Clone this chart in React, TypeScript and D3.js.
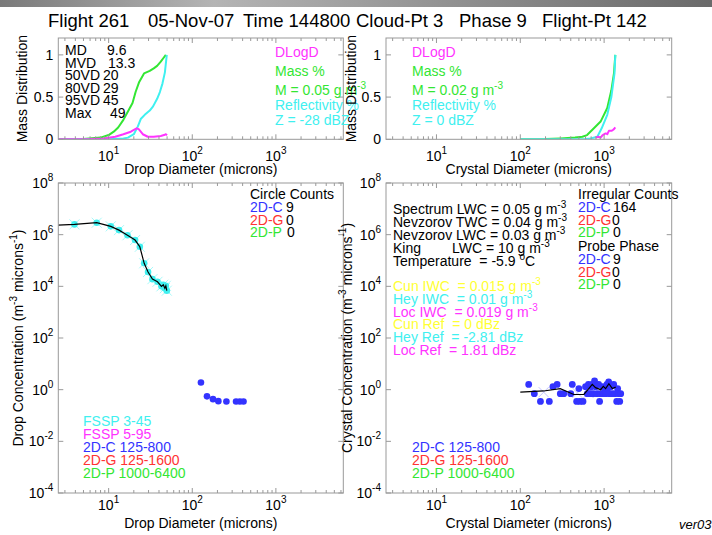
import React from 'react';
import * as d3 from 'd3';

const FONT = '"Liberation Sans", Arial, Helvetica, sans-serif';
const MAGENTA = '#ff33ff';
const GREEN = '#33e633';
const CYAN = '#3ff0f0';
const BLUE = '#3333ff';
const RED = '#ff3333';
const YELLOW = '#ffff33';
const BOX = '#999999';

// ---- top left: drop mass distribution ----
const dropMassD = [2.5, 5, 8, 10, 11.5, 13, 15, 17, 19.3, 21, 23.2, 26.5, 31, 34.6, 38, 42, 45, 48.3];
const dropMassPct = [0, 0.005, 0.02, 0.05, 0.09, 0.14, 0.23, 0.33, 0.43, 0.56, 0.68, 0.78, 0.81, 0.84, 0.87, 0.92, 0.96, 1.0];
const dropReflD = [2.5, 10, 15, 17, 20, 22.3, 24.2, 27, 31, 34, 38, 41, 44, 47, 49.6];
const dropReflPct = [0, 0, 0.01, 0.02, 0.06, 0.15, 0.24, 0.29, 0.34, 0.39, 0.48, 0.56, 0.66, 0.79, 1.0];
const dropDlogD = [2.5, 6, 8.7, 12, 15, 18.4, 21.6, 22.9, 25.6, 29.4, 34.6, 42, 46, 48.3, 50];
const dropDlogV = [0, 0.003, 0.01, 0.03, 0.06, 0.09, 0.13, 0.12, 0.06, 0.03, 0.03, 0.04, 0.05, 0.06, 0.05];
const dropStats = [['MD', '9.6'], ['MVD', '13.3'], ['50VD', '20'], ['80VD', '29'], ['95VD', '45'], ['Max', '49']];

// ---- top right: crystal mass distribution ----
const xtalMassD = [100, 200, 301, 450, 550, 626, 755, 908, 1090, 1220, 1310, 1360];
const xtalMassPct = [0, 0.003, 0.01, 0.02, 0.03, 0.05, 0.13, 0.21, 0.37, 0.58, 0.78, 1.0];
const xtalReflD = [100, 300, 600, 689, 830, 935, 1090, 1220, 1330, 1360];
const xtalReflPct = [0, 0.001, 0.005, 0.01, 0.03, 0.13, 0.29, 0.5, 0.78, 1.0];
const xtalDlogD = [790, 850, 908, 960, 1042, 1090, 1140, 1220, 1270, 1310, 1360];
const xtalDlogV = [0.02, 0.03, 0.02, 0.05, 0.07, 0.06, 0.1, 0.1, 0.11, 0.12, 0.14];

// ---- bottom left: drop concentration ----
const fsspD = [2.2, 3.9, 7.2, 10.6, 13.3, 16.8, 20.7, 23.6, 26.6, 29.6, 33.4, 38.4, 42.8, 45, 47, 48.3, 49.6];
const fsspConc = [2.3e6, 2.5e6, 2.9e6, 2.1e6, 1.5e6, 9.5e5, 6.2e5, 3.4e5, 7.8e4, 3.6e4, 1.9e4, 1.5e4, 1.0e4, 1.15e4, 8.5e3, 1.05e4, 6.8e3];
const dropCircD = [127, 150, 177, 205, 256, 334, 371, 410];
const dropCircConc = [1.9, 0.55, 0.43, 0.36, 0.35, 0.35, 0.35, 0.35];

// ---- bottom right: crystal concentration ----
const xtalDotD = [126, 147, 174, 222, 245, 275, 300, 330, 400, 417, 470, 500, 513, 560,
  600, 630, 650, 650, 690, 700, 720, 740, 769, 790, 820, 860, 883, 900, 960, 980,
  1000, 1042, 1080, 1100, 1133, 1150, 1197, 1250, 1300, 1350, 1413, 1450, 1500, 1535, 1578];
const xtalDotConc = [1.6, 0.7, 0.35, 0.35, 1.3, 1.6, 0.7, 0.7, 0.7, 1.6, 0.35, 1.1, 0.35, 0.35,
  1.3, 0.7, 1.6, 0.7, 0.7, 1.3, 1.6, 0.7, 2.2, 1.3, 0.7, 1.6, 0.35, 0.7, 1.3, 0.7,
  1.1, 0.7, 1.6, 1.1, 2.0, 0.7, 1.3, 0.7, 1.6, 0.7, 0.35, 1.1, 0.7, 0.35, 0.7];
const xtalCrossD = [190, 480, 650, 800, 1000, 1200];
const xtalCrossConc = [0.8, 0.75, 0.75, 1.1, 1.0, 0.9];
const xtalLineD = [100, 190, 300, 435, 573, 657, 722, 790, 908, 978, 1042, 1140, 1253, 1374];
const xtalLineConc = [0.81, 0.89, 1.1, 0.65, 0.65, 1.1, 1.6, 1.2, 1.0, 1.35, 1.1, 1.7, 1.1, 1.25];

const titleParts = ['Flight 261', '05-Nov-07', 'Time 144800', 'Cloud-Pt 3', 'Phase 9', 'Flight-Pt 142'];
const titleX = [48, 148, 243, 356, 459, 542];

const W = 712, H = 535;
const xDomain: [number, number] = [2.5, 6400];
const L = { x0: 58.3, x1: 343.3 };
const R = { x0: 386, x1: 671.7 };
const TOP = { y0: 38, y1: 139.3 };
const BOT = { y0: 183, y1: 493 };

const xMajors = [10, 100, 1000];
const xMinors: number[] = [];
for (let e = 0; e <= 3; e++) for (let m = 2; m <= 9; m++) {
  const v = m * Math.pow(10, e);
  if (v > xDomain[0] && v < xDomain[1]) xMinors.push(v);
}
const yLogTicks = [1e8, 1e6, 1e4, 1e2, 1, 1e-2, 1e-4];
const yLinTicks = [0, 0.5, 1];

const Pow = ({ e }: { e: number }) => (
  <>10<tspan dy={-7} fontSize={10}>{e}</tspan></>
);

function Frame({ x, y, px, py, logY, labOff }: any) {
  const [x0, x1] = [px.x0, px.x1];
  const [y0, y1] = [py.y0, py.y1];
  const yt = logY ? yLogTicks : yLinTicks;
  return (
    <g>
      <rect x={x0} y={y0} width={x1 - x0} height={y1 - y0} fill="none" stroke={BOX} strokeWidth={1} />
      {xMajors.map((v) => (
        <g key={'M' + v}>
          <line x1={x(v)} x2={x(v)} y1={y1} y2={y1 - 5} stroke={BOX} />
          <line x1={x(v)} x2={x(v)} y1={y0} y2={y0 + 5} stroke={BOX} />
          <text x={x(v)} y={y1 + labOff} textAnchor="middle" fontSize={14}>
            <Pow e={Math.round(Math.log10(v))} />
          </text>
        </g>
      ))}
      {xMinors.map((v) => (
        <g key={'m' + v}>
          <line x1={x(v)} x2={x(v)} y1={y1} y2={y1 - 3} stroke={BOX} />
          <line x1={x(v)} x2={x(v)} y1={y0} y2={y0 + 3} stroke={BOX} />
        </g>
      ))}
      {yt.map((v) => (
        <g key={'y' + v}>
          <line x1={x0} x2={x0 + 5} y1={y(v)} y2={y(v)} stroke={BOX} />
          <line x1={x1} x2={x1 - 5} y1={y(v)} y2={y(v)} stroke={BOX} />
          <text x={x0 - 5} y={y(v) + 5} textAnchor="end" fontSize={14}>
            {logY ? <Pow e={Math.round(Math.log10(v))} /> : String(v)}
          </text>
        </g>
      ))}
    </g>
  );
}

const Sup = ({ t }: { t: string }) => <tspan dy={-6} fontSize={10}>{t}</tspan>;

export default function App() {
  const xL = d3.scaleLog().domain(xDomain).range([L.x0, L.x1]);
  const xR = d3.scaleLog().domain(xDomain).range([R.x0, R.x1]);
  const yTop = d3.scaleLinear().domain([0, 1.2]).range([TOP.y1, TOP.y0]);
  const yBot = d3.scaleLog().domain([1e-4, 1e8]).range([BOT.y1, BOT.y0]);

  const mk = (xs: any, ys: any, dArr: number[], vArr: number[]) =>
    d3.line<number>().x((_, i) => xs(dArr[i])).y((_, i) => ys(vArr[i]))(dArr.map((_, i) => i)) || '';

  const cross = (cx: number, cy: number, s: number, color: string, k: string) => (
    <path key={k} d={`M${cx - s},${cy - s}L${cx + s},${cy + s}M${cx - s},${cy + s}L${cx + s},${cy - s}`} stroke={color} strokeWidth={1} />
  );

  return (
    <svg width={W} height={H} style={{ position: 'absolute', left: 0, top: 0, background: '#fff' }}
      fontFamily={FONT}>
      <defs>
        <linearGradient id="band" x1="0" x2="1" y1="0" y2="0">
          <stop offset="0" stopColor="#7a7a7a" />
          <stop offset="0.3" stopColor="#b4b4b4" />
          <stop offset="0.7" stopColor="#8a8a8a" />
          <stop offset="1" stopColor="#6a6a6a" />
        </linearGradient>
        <clipPath id="cTL"><rect x={L.x0} y={TOP.y0} width={L.x1 - L.x0} height={TOP.y1 - TOP.y0} /></clipPath>
        <clipPath id="cTR"><rect x={R.x0} y={TOP.y0} width={R.x1 - R.x0} height={TOP.y1 - TOP.y0} /></clipPath>
        <clipPath id="cBL"><rect x={L.x0} y={BOT.y0} width={L.x1 - L.x0} height={BOT.y1 - BOT.y0} /></clipPath>
        <clipPath id="cBR"><rect x={R.x0} y={BOT.y0} width={R.x1 - R.x0} height={BOT.y1 - BOT.y0} /></clipPath>
      </defs>
      <rect x={0} y={0} width={W} height={7} fill="url(#band)" />

      {/* title */}
      {titleParts.map((t, i) => (
        <text key={t} x={titleX[i]} y={27} fontSize={18.5}>{t}</text>
      ))}

      {/* ---------- top left ---------- */}
      <g clipPath="url(#cTL)" fill="none" strokeWidth={2} strokeLinejoin="round">
        <path d={mk(xL, yTop, dropMassD, dropMassPct)} stroke={GREEN} />
        <path d={mk(xL, yTop, dropReflD, dropReflPct)} stroke={CYAN} />
        <path d={mk(xL, yTop, dropDlogD, dropDlogV)} stroke={MAGENTA} />
      </g>
      <Frame x={xL} y={yTop} px={L} py={TOP} logY={false} labOff={22} />
      {dropStats.map((s, i) => (
        <g key={s[0]} fontSize={14}>
          <text x={65} y={55 + i * 12.6}>{s[0]}</text>
          <text x={[107, 108, 103, 103, 103, 110][i]} y={55 + i * 12.6}>{s[1]}</text>
        </g>
      ))}
      <g fontSize={14}>
        <text x={275} y={57} fill={MAGENTA}>DLogD</text>
        <text x={275} y={76} fill={GREEN}>Mass %</text>
        <text x={275} y={95} fill={GREEN}>M = 0.05 g m<Sup t="-3" /></text>
        <text x={275} y={110} fill={CYAN}>Reflectivity %</text>
        <text x={275} y={125} fill={CYAN}>Z = -28 dBZ</text>
      </g>
      <text x={200.8} y={174} textAnchor="middle" fontSize={14}>Drop Diameter (microns)</text>
      <text transform={`translate(27,${(TOP.y0 + TOP.y1) / 2}) rotate(-90)`} textAnchor="middle" fontSize={14}>Mass Distribution</text>

      {/* ---------- top right ---------- */}
      <g clipPath="url(#cTR)" fill="none" strokeWidth={2} strokeLinejoin="round">
        <path d={mk(xR, yTop, xtalMassD, xtalMassPct)} stroke={GREEN} />
        <path d={mk(xR, yTop, xtalReflD, xtalReflPct)} stroke={CYAN} />
        <path d={mk(xR, yTop, xtalDlogD, xtalDlogV)} stroke={MAGENTA} />
      </g>
      <Frame x={xR} y={yTop} px={R} py={TOP} logY={false} labOff={22} />
      <g fontSize={14}>
        <text x={412} y={57} fill={MAGENTA}>DLogD</text>
        <text x={412} y={76} fill={GREEN}>Mass %</text>
        <text x={412} y={95} fill={GREEN}>M = 0.02 g m<Sup t="-3" /></text>
        <text x={412} y={110} fill={CYAN}>Reflectivity %</text>
        <text x={412} y={125} fill={CYAN}>Z = 0 dBZ</text>
      </g>
      <text x={528.8} y={174} textAnchor="middle" fontSize={14}>Crystal Diameter (microns)</text>
      <text transform={`translate(356,${(TOP.y0 + TOP.y1) / 2}) rotate(-90)`} textAnchor="middle" fontSize={14}>Mass Distribution</text>

      {/* ---------- bottom left ---------- */}
      <g clipPath="url(#cBL)">
        {fsspD.map((d, i) => cross(xL(d), yBot(fsspConc[i]), 5, '#a8fafa', 'fx' + i))}
        {fsspD.map((d, i) => (
          <circle key={'fc' + i} cx={xL(d)} cy={yBot(fsspConc[i])} r={3.3} fill={CYAN} />
        ))}
        <path d={mk(xL, yBot, fsspD, fsspConc)} fill="none" stroke="#000" strokeWidth={1.2} />
        {dropCircD.map((d, i) => (
          <circle key={'bc' + i} cx={xL(d)} cy={yBot(dropCircConc[i])} r={3.3} fill={BLUE} />
        ))}
      </g>
      <Frame x={xL} y={yBot} px={L} py={BOT} logY={true} labOff={17} />
      <g fontSize={14}>
        <text x={250} y={199}>Circle Counts</text>
        <text x={250} y={212} fill={BLUE}>2D-C</text><text x={286} y={212}>9</text>
        <text x={250} y={224.5} fill={RED}>2D-G</text><text x={286} y={224.5}>0</text>
        <text x={250} y={237} fill={GREEN}>2D-P</text><text x={287} y={237}>0</text>
        <text x={83} y={426} fill={CYAN}>FSSP 3-45</text>
        <text x={83} y={439} fill={MAGENTA}>FSSP 5-95</text>
        <text x={83} y={452} fill={BLUE}>2D-C 125-800</text>
        <text x={83} y={465} fill={RED}>2D-G 125-1600</text>
        <text x={83} y={478} fill={GREEN}>2D-P 1000-6400</text>
      </g>
      <text x={200.8} y={528} textAnchor="middle" fontSize={14}>Drop Diameter (microns)</text>
      <text transform={`translate(23,${(BOT.y0 + BOT.y1) / 2}) rotate(-90)`} textAnchor="middle" fontSize={14}>
        Drop Concentration (m<Sup t="-3" /><tspan dy={6}> microns</tspan><Sup t="-1" /><tspan dy={6}>)</tspan>
      </text>

      {/* ---------- bottom right ---------- */}
      <g clipPath="url(#cBR)">
        {xtalCrossD.map((d, i) => cross(xR(d), yBot(xtalCrossConc[i]), 5, '#c4c4ff', 'xx' + i))}
        {xtalDotD.map((d, i) => (
          <circle key={'xc' + i} cx={xR(d)} cy={yBot(xtalDotConc[i])} r={3.4} fill={BLUE} />
        ))}
        <path d={mk(xR, yBot, xtalLineD, xtalLineConc)} fill="none" stroke="#000" strokeWidth={1.2} />
      </g>
      <Frame x={xR} y={yBot} px={R} py={BOT} logY={true} labOff={17} />
      <g fontSize={14}>
        <text x={393} y={214}>Spectrum LWC = 0.05 g m<Sup t="-3" /></text>
        <text x={393} y={227}>Nevzorov TWC = 0.04 g m<Sup t="-3" /></text>
        <text x={393} y={240}>Nevzorov LWC = 0.03 g m<Sup t="-3" /></text>
        <text x={393} y={253}>King</text>
        <text x={452} y={253}>LWC = 10 g m<Sup t="-3" /></text>
        <text x={393} y={266} xmlSpace="preserve">Temperature  = -5.9 <Sup t="o" /><tspan dy={6}>C</tspan></text>
        <text x={393} y={291} fill={YELLOW} xmlSpace="preserve">Cun IWC  = 0.015 g m<Sup t="-3" /></text>
        <text x={393} y={304} fill={CYAN} xmlSpace="preserve">Hey IWC  = 0.01 g m<Sup t="-3" /></text>
        <text x={393} y={316.5} fill={MAGENTA} xmlSpace="preserve">Loc IWC  = 0.019 g m<Sup t="-3" /></text>
        <text x={393} y={329} fill={YELLOW} xmlSpace="preserve">Cun Ref  = 0 dBz</text>
        <text x={393} y={342} fill={CYAN} xmlSpace="preserve">Hey Ref  = -2.81 dBz</text>
        <text x={393} y={354.5} fill={MAGENTA} xmlSpace="preserve">Loc Ref  = 1.81 dBz</text>

        <text x={578} y={199}>Irregular Counts</text>
        <text x={578} y={212} fill={BLUE}>2D-C</text><text x={613} y={212}>164</text>
        <text x={578} y={224.5} fill={RED}>2D-G</text><text x={612} y={224.5}>0</text>
        <text x={578} y={237} fill={GREEN}>2D-P</text><text x={613} y={237}>0</text>
        <text x={578} y={251}>Probe Phase</text>
        <text x={578} y={264} fill={BLUE}>2D-C</text><text x={613} y={264}>9</text>
        <text x={578} y={276.5} fill={RED}>2D-G</text><text x={612} y={276.5}>0</text>
        <text x={578} y={289} fill={GREEN}>2D-P</text><text x={613} y={289}>0</text>

        <text x={412} y={452} fill={BLUE}>2D-C 125-800</text>
        <text x={412} y={465} fill={RED}>2D-G 125-1600</text>
        <text x={412} y={478} fill={GREEN}>2D-P 1000-6400</text>
      </g>
      <text x={528.8} y={528} textAnchor="middle" fontSize={14}>Crystal Diameter (microns)</text>
      <text transform={`translate(352,${(BOT.y0 + BOT.y1) / 2}) rotate(-90)`} textAnchor="middle" fontSize={14}>
        Crystal Concentration (m<Sup t="-3" /><tspan dy={6}> microns</tspan><Sup t="-1" /><tspan dy={6}>)</tspan>
      </text>
      <text x={679} y={529} fontSize={13} fontStyle="italic">ver03</text>
    </svg>
  );
}
